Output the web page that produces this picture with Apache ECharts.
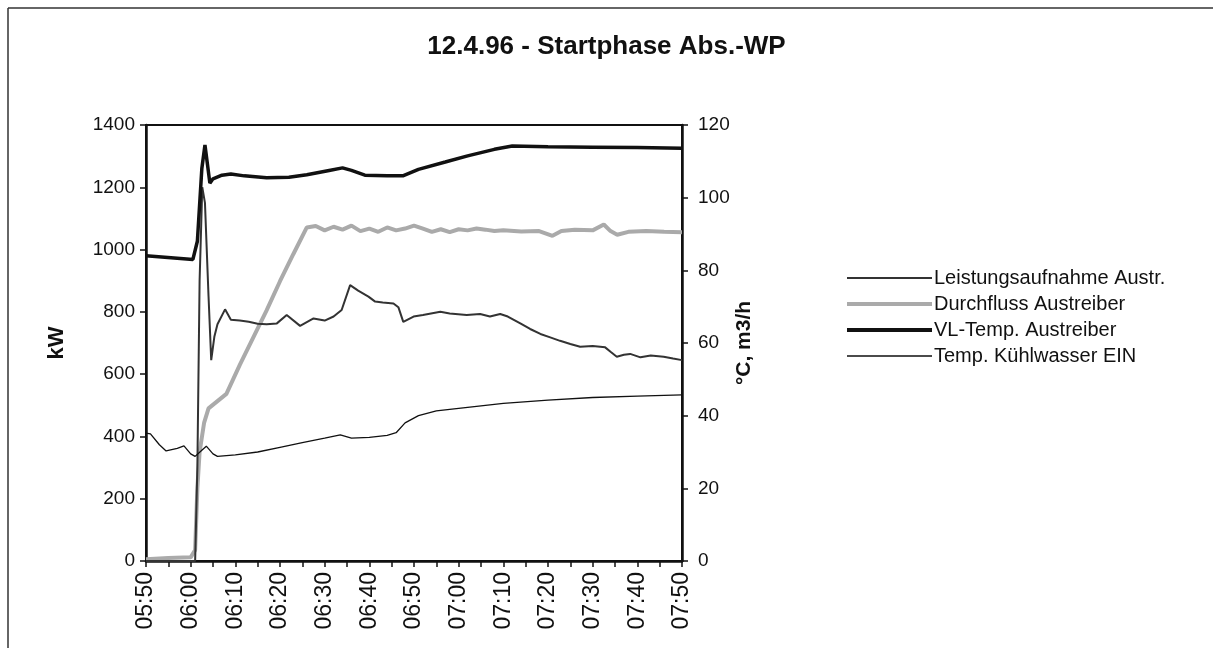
<!DOCTYPE html>
<html>
<head>
<meta charset="utf-8">
<script src="https://cdn.jsdelivr.net/npm/echarts@6/dist/echarts.min.js"></script>
<style>
html,body{margin:0;padding:0;background:#fff;}
#c{width:1213px;height:648px;}
</style>
</head>
<body>
<div id="c"></div>
<script>
// Time axis: minutes after 05:50
const tickLabels = ['05:50','06:00','06:10','06:20','06:30','06:40','06:50','07:00','07:10','07:20','07:30','07:40','07:50'];
const seriesNames = ['Leistungsaufnahme Austr.','Durchfluss Austreiber','VL-Temp. Austreiber','Temp. Kühlwasser EIN'];

// Leistungsaufnahme Austr. [kW] (left axis)
const leistT = [0,5,10,11,11.5,12,12.6,13.2,14,14.6,15.3,16,17.7,19,21,23,25,27,29.3,31.5,34.5,37.5,40,42,43.8,45.7,47.5,49.8,51.3,53,55.4,56.5,57.6,59.9,62,65.9,68,71.8,74.8,77,79.3,81,83.8,86,88.3,90.5,92.7,95,97.2,100,102.8,104,105.4,107,108.4,110.7,113,115.9,118,120];
const leistV = [0,0,0,0,300,900,1200,1150,850,645,720,760,808,775,772,768,762,760,763,790,755,779,772,785,806,886,868,849,833,830,827,815,768,785,790,800,795,790,793,785,793,785,763,745,729,718,707,697,688,690,686,672,656,662,665,654,660,656,650,645];

// Durchfluss Austreiber [m3/h] (right axis)
const flowT = [0,5,10,11,11.5,12,13,14,16,18,19.5,21,24,27,30,33,36,38,40,42,44,46,48,50,52,54,56,58,60,62,64,66,68,70,72,74,76,78,80,84,88,91,93,96,100,102.5,104,105.5,108,112,116,120];
const flowV = [0.5,0.8,1,3,20,30,38,42,44,46,50,54,61.5,69,77,84.5,91.8,92.2,91.0,92.0,91.2,92.3,90.8,91.5,90.6,91.8,91.0,91.5,92.3,91.5,90.6,91.3,90.5,91.3,91.0,91.5,91.2,90.8,91.0,90.7,90.8,89.5,90.8,91.2,91.0,92.6,90.8,89.8,90.6,90.8,90.6,90.5];

// VL-Temp. Austreiber [°C] (right axis)
const vlT = [0,10.5,11.5,12.5,13.2,13.6,14.3,15,17,19,22,27,32,36,41,44,46,49,54,57.5,61,67,72,78,82,90,100,110,120];
const vlV = [84.0,83.0,88,108,114.5,114.8,104.0,105.2,106.2,106.5,106.0,105.5,105.6,106.3,107.5,108.2,107.5,106.2,106.0,106.0,107.8,109.8,111.5,113.3,114.2,114.0,113.9,113.8,113.6];

// Temp. Kühlwasser EIN [°C] (right axis)
const kwT = [0,1,3,4.5,7,8.5,10,11,12.5,13.5,15,16,20,25,30,35,40,43.5,46,50,54,56,58,61,65,70,75,80,90,100,110,120];
const kwV = [35.2,35.0,32,30.3,31.0,31.7,29.5,28.8,30.5,31.6,29.5,28.8,29.2,30.0,31.3,32.6,33.8,34.7,33.8,34.0,34.6,35.3,38.0,40.0,41.3,42.0,42.7,43.4,44.3,45.0,45.4,45.7];

const zip = (t, v) => t.map((x, i) => [x, v[i]]);
const FONT = '"Liberation Sans", Arial, sans-serif';
// legend line icon: thin bar centred in an 85x14 box (tiny corner dots fix the box)
const lineIcon = th => {
  const a = 7 - th / 2, b = 7 + th / 2;
  return 'path://M0,0L0.01,0L0.01,0.01Z M85,14L84.99,14L84.99,13.99Z M0,' + a + 'L85,' + a + 'L85,' + b + 'L0,' + b + 'Z';
};

const chart = echarts.init(document.getElementById('c'), null, {renderer: 'canvas'});
chart.setOption({
  animation: false,
  backgroundColor: '#fff',
  textStyle: {fontFamily: FONT, color: '#111'},
  title: {
    text: '12.4.96 - Startphase Abs.-WP',
    left: 'center', top: 29,
    textStyle: {fontFamily: FONT, fontSize: 26, fontWeight: 'bold', color: '#111'}
  },
  graphic: [
    {type: 'line', shape: {x1: 8, y1: 8, x2: 8, y2: 648}, style: {stroke: '#333', lineWidth: 1.5}},
    {type: 'line', shape: {x1: 8, y1: 8, x2: 1213, y2: 8}, style: {stroke: '#333', lineWidth: 1.5}}
  ],
  legend: {
    orient: 'vertical',
    left: 842, top: 263,
    itemWidth: 85, itemHeight: 14, itemGap: 6,
    textStyle: {fontFamily: FONT, fontSize: 20, color: '#111', padding: [0, 0, 0, -3]},
    data: [
      {name: seriesNames[0], icon: lineIcon(2)},
      {name: seriesNames[1], icon: lineIcon(4)},
      {name: seriesNames[2], icon: lineIcon(4)},
      {name: seriesNames[3], icon: lineIcon(1.5)}
    ]
  },
  grid: {left: 146, right: 531, top: 125, bottom: 87, show: true, borderColor: '#111', borderWidth: 2},
  xAxis: {
    type: 'value', min: 0, max: 120, interval: 10,
    axisLine: {onZero: false, lineStyle: {color: '#111', width: 2.5}},
    axisTick: {show: true, length: 6, inside: false, lineStyle: {color: '#111', width: 1.5}},
    minorTick: {show: true, splitNumber: 2, length: 6, lineStyle: {color: '#111', width: 1.5}},
    splitLine: {show: false},
    axisLabel: {
      rotate: 90, fontFamily: FONT, fontSize: 23, color: '#111', margin: 11,
      formatter: v => tickLabels[Math.round(v / 10)]
    }
  },
  yAxis: [
    {
      type: 'value', min: 0, max: 1400, interval: 200,
      name: 'kW', nameLocation: 'middle', nameGap: 78, nameRotate: 90,
      nameTextStyle: {fontFamily: FONT, fontSize: 22, fontWeight: 'bold', color: '#111'},
      axisLine: {show: true, lineStyle: {color: '#111', width: 2.5}},
      axisTick: {show: true, length: 6, lineStyle: {color: '#111', width: 1.5}},
      splitLine: {show: false},
      axisLabel: {fontFamily: FONT, fontSize: 19, color: '#111', margin: 11, formatter: v => String(v)}
    },
    {
      type: 'value', min: 0, max: 120, interval: 20, position: 'right',
      name: '°C, m3/h', nameLocation: 'middle', nameGap: 38, nameRotate: 90,
      nameTextStyle: {fontFamily: FONT, fontSize: 21, fontWeight: 'bold', color: '#111'},
      axisLine: {show: true, lineStyle: {color: '#111', width: 2.5}},
      axisTick: {show: true, length: 6, lineStyle: {color: '#111', width: 1.5}},
      splitLine: {show: false},
      axisLabel: {fontFamily: FONT, fontSize: 19, color: '#111', margin: 16, formatter: v => String(v)}
    }
  ],
  series: [
    {
      name: seriesNames[1], type: 'line', yAxisIndex: 1, symbol: 'none', z: 2,
      data: zip(flowT, flowV),
      lineStyle: {color: '#aaaaaa', width: 4}, itemStyle: {color: '#aaaaaa'}
    },
    {
      name: seriesNames[0], type: 'line', yAxisIndex: 0, symbol: 'none', z: 3,
      data: zip(leistT, leistV),
      lineStyle: {color: '#333', width: 2}, itemStyle: {color: '#333'}
    },
    {
      name: seriesNames[2], type: 'line', yAxisIndex: 1, symbol: 'none', z: 4,
      data: zip(vlT, vlV),
      lineStyle: {color: '#111', width: 3.5}, itemStyle: {color: '#111'}
    },
    {
      name: seriesNames[3], type: 'line', yAxisIndex: 1, symbol: 'none', z: 5,
      data: zip(kwT, kwV),
      lineStyle: {color: '#111', width: 1.3}, itemStyle: {color: '#111'}
    }
  ]
});
</script>
</body>
</html>
